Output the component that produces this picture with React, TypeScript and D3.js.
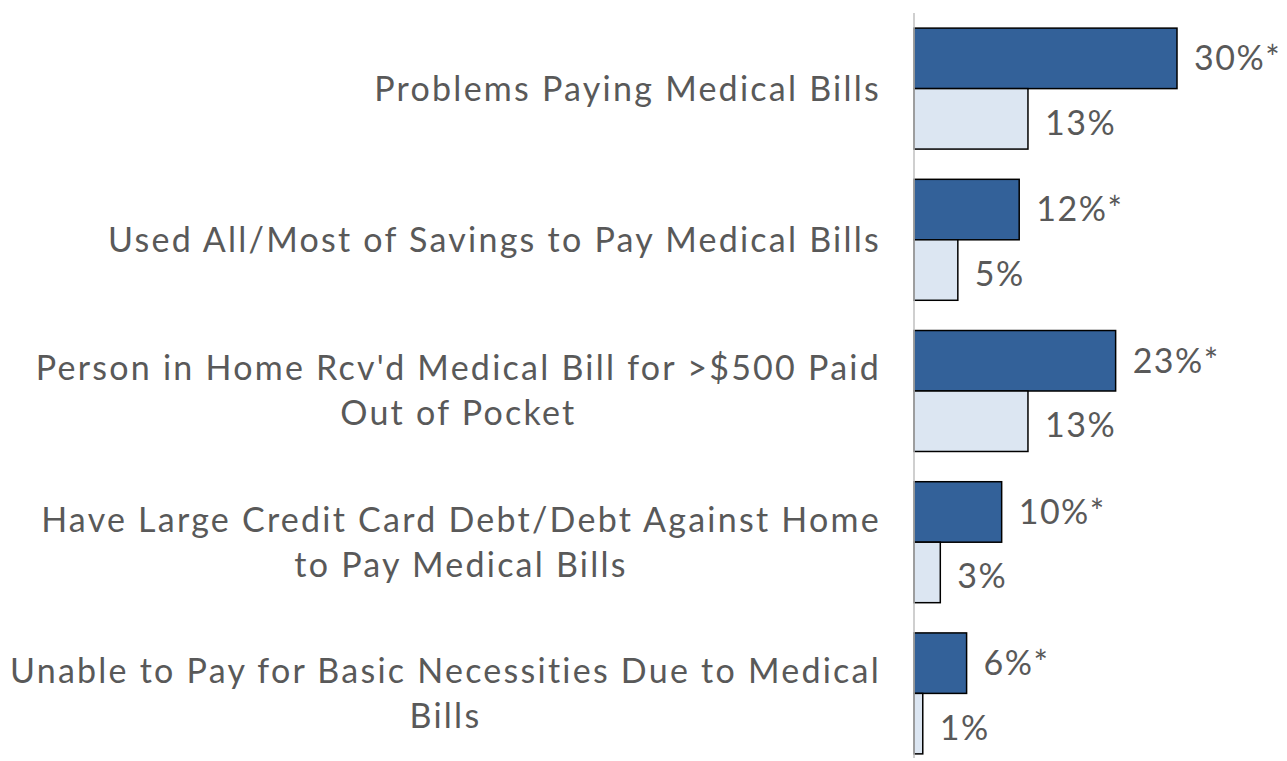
import React, { useLayoutEffect, useRef, useState } from "react";
import * as d3 from "d3";

const categories: string[][] = [
  ["Problems Paying Medical Bills"],
  ["Used All/Most of Savings to Pay Medical Bills"],
  ["Person in Home Rcv'd Medical Bill for >$500 Paid", "Out of Pocket"],
  ["Have Large Credit Card Debt/Debt Against Home", "to Pay Medical Bills"],
  ["Unable to Pay for Basic Necessities Due to Medical", "Bills"],
];
const seriesA: number[] = [30, 12, 23, 10, 6];
const seriesB: number[] = [13, 5, 13, 3, 1];
const labelsA: string[] = ["30%*", "12%*", "23%*", "10%*", "6%*"];
const labelsB: string[] = ["13%", "5%", "13%", "3%", "1%"];
const seriesKeys = ["A", "B"];

const W = 1287;
const H = 761;
const axisX = 914;
const labelRight = 881;
const FONT = "Lato, 'Noto Sans', sans-serif";
const TEXT = "#595959";

export default function App() {
  const idx = categories.map((_, i) => String(i));
  const y = d3.scaleBand<string>().domain(idx).range([13, 769]).paddingInner(0.2).paddingOuter(0.1);
  const yi = d3.scaleBand<string>().domain(seriesKeys).range([0, y.bandwidth()]);
  const x = d3.scaleLinear().domain([0, 30]).range([axisX, 1177]);
  const lineH = 45;

  const groupRefs = useRef<(SVGGElement | null)[]>([]);
  const [widths, setWidths] = useState<number[]>(categories.map(() => 0));

  useLayoutEffect(() => {
    const ws = groupRefs.current.map((g) => {
      if (!g) return 0;
      let m = 0;
      g.querySelectorAll("text").forEach((t) => {
        m = Math.max(m, (t as SVGTextElement).getComputedTextLength());
      });
      return m;
    });
    setWidths(ws);
  }, []);

  return (
    <svg width={W} height={H} style={{ position: "absolute", left: 0, top: 0, background: "#fff" }}>
      {categories.map((lines, i) => {
        const y0 = y(String(i))!;
        const cy = y0 + y.bandwidth() / 2;
        const vals = [seriesA[i], seriesB[i]];
        const labs = [labelsA[i], labelsB[i]];
        const cx = labelRight - widths[i] / 2;
        return (
          <g key={i}>
            {seriesKeys.map((k, j) => {
              const by = y0 + yi(k)!;
              return (
                <g key={k}>
                  <rect
                    x={x(0)}
                    y={by}
                    width={x(vals[j]) - x(0)}
                    height={yi.bandwidth()}
                    fill={j === 0 ? "#336199" : "#DCE6F2"}
                    stroke="#000"
                    strokeWidth={1.5}
                  />
                  <text
                    x={x(vals[j]) + 17}
                    y={by + yi.bandwidth() / 2 + (j === 1 ? 4 : 0)}
                    dy="0.35em"
                    fontFamily={FONT}
                    fontSize={34}
                    letterSpacing={1.5}
                    fill={TEXT}
                  >
                    {labs[j]}
                  </text>
                </g>
              );
            })}
            <g ref={(el) => { groupRefs.current[i] = el; }}>
              {lines.map((ln, li) => (
                <text
                  key={li}
                  x={cx}
                  y={cy + (li - (lines.length - 1) / 2) * lineH}
                  dy="0.35em"
                  textAnchor="middle"
                  fontFamily={FONT}
                  fontSize={34}
                  letterSpacing={2.25}
                  fill={TEXT}
                >
                  {ln}
                </text>
              ))}
            </g>
          </g>
        );
      })}
      <line x1={axisX} x2={axisX} y1={13} y2={758} stroke="#BFBFBF" strokeWidth={1.5} />
    </svg>
  );
}
